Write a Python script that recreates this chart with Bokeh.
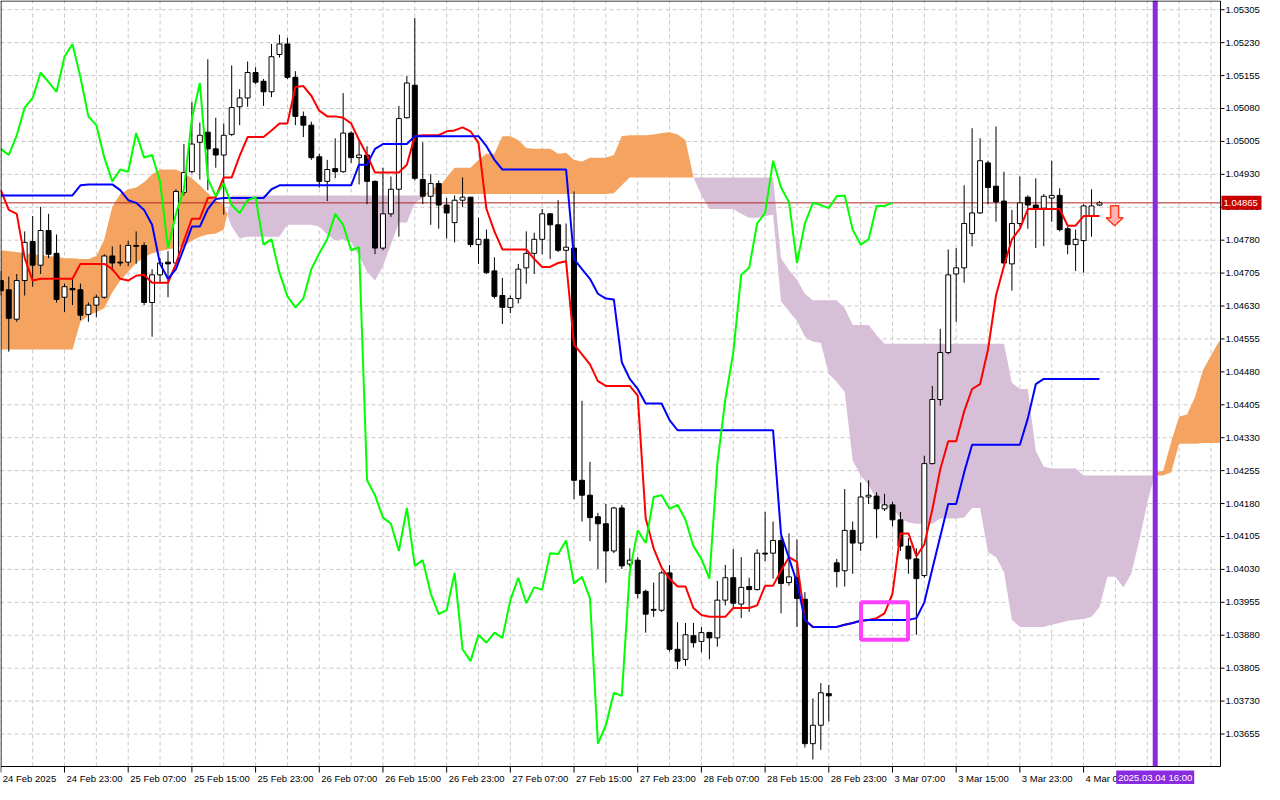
import numpy as np
from bokeh.plotting import figure
from bokeh.models import ColumnDataSource
from bokeh.core.properties import value
from bokeh.embed import file_html
from bokeh.resources import INLINE

# ---------------- data (prices in points: 1 point = 0.00001) ----------------
POINT = 1e-5

open_pts = [
    104688, 104667, 104600, 104688, 104777, 104723, 104802, 104750, 104650, 104670,
    104667, 104611, 104632, 104650, 104744, 104730, 104730, 104768, 104768, 104638,
    104701, 104730, 104728, 104889, 104936, 105003, 105026, 104988, 104974, 105021,
    105084, 105104, 105162, 105142, 105118, 105203, 105227, 105151, 105062, 105042,
    104970, 104914, 104943, 104936, 105024, 104968, 104974, 104914, 104762, 104840,
    104896, 105059, 105133, 104918, 104880, 104909, 104860, 104820, 104871, 104878,
    104770, 104782, 104710, 104654, 104627, 104647, 104717, 104750, 104782, 104840,
    104815, 104757, 104762, 104233, 104199, 104150, 104134, 104072, 104170, 104042,
    104051, 103980, 103939, 103937, 104022, 103848, 103825, 103879, 103866, 103886,
    103874, 103960, 104011, 103951, 103991, 103984, 104067, 104067, 104096, 104000,
    104011, 103962, 103633, 103675, 103747, 104045, 104027, 104119, 104090, 104195,
    104197, 104168, 104177, 104143, 104083, 104054, 104016, 104271, 104417, 104524,
    104703, 104717, 104795, 104842, 104956, 104903, 104869, 104726, 104818, 104878,
    104860, 104853, 104876, 104882, 104806, 104770, 104779, 104835, 104860]
high_pts = [
    104710, 104697, 104703, 104800, 104835, 104856, 104840, 104793, 104681, 104692,
    104681, 104638, 104656, 104748, 104766, 104770, 104779, 104800, 104775, 104714,
    104739, 104755, 104896, 104999, 105095, 105048, 105192, 105059, 105046, 105178,
    105124, 105187, 105174, 105147, 105227, 105248, 105241, 105165, 105073, 105050,
    104977, 104963, 105012, 105115, 105028, 105006, 104994, 104916, 104945, 104925,
    105086, 105154, 105286, 105003, 104930, 104916, 104876, 104882, 104923, 104878,
    104831, 104804, 104741, 104694, 104654, 104726, 104800, 104797, 104851, 104842,
    104871, 104818, 104891, 104414, 104275, 104159, 104179, 104172, 104177, 104078,
    104058, 103984, 104000, 104027, 104040, 103910, 103908, 103908, 103899, 103888,
    104004, 104040, 104076, 104058, 104011, 104076, 104161, 104139, 104105, 104112,
    104098, 103978, 103736, 103771, 103767, 104054, 104213, 104139, 104228, 104233,
    104206, 104202, 104184, 104161, 104101, 104078, 104289, 104448, 104578, 104759,
    104762, 104905, 105035, 105012, 104961, 105039, 104936, 104849, 104925, 104882,
    104921, 104885, 104961, 104898, 104811, 104804, 104862, 104896, 104869]
low_pts = [
    104654, 104526, 104594, 104654, 104674, 104703, 104739, 104638, 104616, 104632,
    104598, 104594, 104605, 104647, 104710, 104721, 104721, 104726, 104632, 104560,
    104681, 104650, 104726, 104882, 104932, 104918, 104894, 104945, 104838, 105017,
    105042, 105084, 105136, 105086, 105106, 105196, 105147, 105042, 105015, 104963,
    104900, 104869, 104921, 104934, 104956, 104907, 104862, 104748, 104757, 104833,
    104788, 105057, 104916, 104862, 104815, 104806, 104784, 104775, 104856, 104764,
    104726, 104703, 104647, 104589, 104614, 104636, 104681, 104703, 104748, 104737,
    104753, 104732, 104190, 104139, 104094, 104031, 104000, 104067, 104031, 104036,
    103964, 103886, 103922, 103933, 103843, 103803, 103810, 103852, 103841, 103825,
    103854, 103948, 103942, 103919, 103933, 103982, 104049, 104009, 103930, 103993,
    103899, 103624, 103597, 103619, 103684, 103989, 103991, 104020, 104072, 104179,
    104101, 104163, 104128, 104072, 104020, 103881, 104011, 104269, 104403, 104520,
    104594, 104683, 104766, 104840, 104862, 104822, 104726, 104665, 104811, 104806,
    104762, 104766, 104822, 104800, 104748, 104710, 104706, 104788, 104858]
close_pts = [
    104665, 104602, 104688, 104775, 104723, 104802, 104748, 104645, 104674, 104667,
    104609, 104632, 104650, 104744, 104728, 104728, 104768, 104766, 104638, 104701,
    104728, 104726, 104891, 104934, 104999, 105019, 104988, 104974, 105019, 105082,
    105104, 105162, 105140, 105118, 105198, 105227, 105151, 105062, 105042, 104968,
    104914, 104941, 104936, 105024, 104968, 104974, 104914, 104762, 104840, 104896,
    105057, 105138, 104921, 104880, 104909, 104860, 104842, 104871, 104878, 104770,
    104782, 104706, 104652, 104627, 104647, 104714, 104750, 104782, 104840, 104815,
    104757, 104764, 104233, 104199, 104148, 104134, 104072, 104170, 104038, 104051,
    103975, 103928, 103937, 104022, 103848, 103821, 103881, 103863, 103886, 103874,
    103960, 104011, 103953, 103989, 103984, 104067, 104065, 104096, 103998, 104013,
    103964, 103633, 103675, 103749, 103742, 104025, 104119, 104090, 104195, 104199,
    104168, 104177, 104143, 104083, 104054, 104009, 104271, 104417, 104524, 104701,
    104717, 104818, 104842, 104961, 104900, 104867, 104728, 104818, 104865, 104860,
    104853, 104880, 104882, 104804, 104770, 104782, 104858, 104858, 104865]

tenkan_pts = [
    104894, 104849, 104840, 104739, 104688, 104692, 104692, 104692, 104692, 104692,
    104726, 104726, 104726, 104726, 104714, 104692, 104688, 104699, 104701, 104683,
    104683, 104683, 104726, 104779, 104829, 104829, 104876, 104878, 104923, 104923,
    104972, 105015, 105015, 105015, 105030, 105046, 105046, 105129, 105131, 105109,
    105075, 105062, 105062, 105059, 105046, 105008, 104974, 104934, 104934, 104934,
    104934, 104952, 105017, 105019, 105019, 105019, 105028, 105030, 105037, 105028,
    105001, 104851, 104800, 104759, 104759, 104759, 104759, 104737, 104719, 104719,
    104728, 104732, 104542, 104520, 104497, 104459, 104448, 104448, 104448, 104448,
    104426, 104146, 104078, 104034, 104009, 103991, 103991, 103942, 103926, 103922,
    103922, 103922, 103942, 103942, 103942, 103948, 103993, 103993, 104027, 104058,
    104047, 103915, 103899, 103899, 103899, 103899, 103904, 103908, 103913, 103915,
    103919, 103930, 103975, 104112, 104112, 104060, 104087, 104166, 104258, 104322,
    104322, 104390, 104441, 104452, 104531, 104654, 104721, 104782, 104806, 104851,
    104851, 104851, 104851, 104851, 104813, 104813, 104835, 104835, 104835]
kijun_pts = [
    104882, 104882, 104882, 104882, 104882, 104882, 104882, 104882, 104882, 104882,
    104905, 104907, 104907, 104907, 104907, 104894, 104871, 104865, 104849, 104815,
    104726, 104692, 104714, 104762, 104811, 104811, 104851, 104874, 104876, 104876,
    104876, 104876, 104876, 104876, 104896, 104905, 104905, 104905, 104905, 104905,
    104905, 104905, 104905, 104905, 104905, 104952, 104952, 104988, 104999, 104999,
    104999, 104999, 105017, 105017, 105017, 105017, 105017, 105017, 105017, 105017,
    105017, 104994, 104963, 104941, 104941, 104941, 104941, 104941, 104941, 104941,
    104941, 104941, 104737, 104714, 104692, 104658, 104647, 104645, 104502, 104464,
    104441, 104408, 104408, 104408, 104370, 104347, 104347, 104347, 104347, 104347,
    104347, 104347, 104347, 104347, 104347, 104347, 104347, 104347, 104110, 104056,
    104000, 103915, 103899, 103899, 103899, 103899, 103904, 103908, 103913, 103915,
    103915, 103915, 103915, 103915, 103915, 103919, 103955, 104031, 104105, 104179,
    104179, 104251, 104314, 104314, 104314, 104314, 104314, 104314, 104314, 104374,
    104452, 104464, 104464, 104464, 104464, 104464, 104464, 104464, 104464]
# Senkou spans as drawn (already displaced 26 bars ahead), bars 0..154
span_a_pts = [
    104757, 104755, 104753, 104750, 104748, 104746, 104744, 104742, 104739, 104739,
    104737, 104737, 104744, 104782, 104856, 104885, 104896, 104900, 104912, 104930,
    104941, 104941, 104941, 104932, 104921, 104905, 104887, 104871, 104860, 104811,
    104784, 104788, 104788, 104788, 104788, 104788, 104815, 104815, 104815, 104815,
    104811, 104793, 104779, 104782, 104775, 104744, 104708, 104688, 104721, 104770,
    104820, 104820, 104865, 104876, 104900, 104900, 104923, 104945, 104945, 104945,
    104963, 104977, 104977, 105017, 105017, 105008, 104990, 104988, 104988, 104988,
    104977, 104979, 104963, 104959, 104968, 104968, 104968, 104974, 105017, 105019,
    105019, 105019, 105021, 105024, 105026, 105021, 105008, 104923, 104882, 104851,
    104851, 104851, 104851, 104840, 104831, 104831, 104835, 104838, 104641, 104618,
    104596, 104560, 104549, 104546, 104475, 104457, 104434, 104278, 104244, 104222,
    104190, 104170, 104170, 104146, 104137, 104134, 104134, 104134, 104146, 104146,
    104146, 104148, 104170, 104170, 104069, 104058, 104025, 103915, 103899, 103899,
    103899, 103899, 103904, 103908, 103913, 103915, 103917, 103922, 103944, 104013,
    104013, 103989, 104020, 104096, 104181, 104251, 104255, 104320, 104378, 104383,
    104423, 104484, 104517, 104549, 104560]
span_b_pts = [
    104531, 104531, 104531, 104531, 104531, 104531, 104531, 104531, 104531, 104531,
    104594, 104609, 104616, 104625, 104661, 104688, 104708, 104728, 104741, 104750,
    104755, 104759, 104762, 104766, 104779, 104788, 104793, 104795, 104804, 104882,
    104882, 104882, 104882, 104882, 104882, 104882, 104882, 104882, 104882, 104882,
    104882, 104882, 104882, 104882, 104882, 104882, 104882, 104882, 104882, 104882,
    104882, 104882, 104882, 104882, 104885, 104885, 104885, 104885, 104885, 104885,
    104885, 104885, 104885, 104885, 104885, 104885, 104885, 104885, 104885, 104885,
    104885, 104885, 104885, 104885, 104885, 104885, 104885, 104887, 104905, 104923,
    104923, 104923, 104923, 104923, 104923, 104923, 104923, 104923, 104923, 104923,
    104923, 104923, 104923, 104923, 104923, 104923, 104923, 104923, 104739, 104712,
    104690, 104658, 104643, 104643, 104643, 104643, 104625, 104587, 104587, 104587,
    104564, 104544, 104544, 104544, 104544, 104544, 104544, 104544, 104544, 104544,
    104544, 104544, 104544, 104544, 104544, 104544, 104544, 104455, 104441, 104441,
    104300, 104264, 104260, 104260, 104260, 104260, 104244, 104244, 104244, 104244,
    104244, 104244, 104244, 104244, 104244, 104244, 104244, 104251, 104316, 104316,
    104316, 104318, 104318, 104318, 104318]
CHIKOU_SHIFT = 26

x_tick_bars = [0, 8, 16, 24, 32, 40, 48, 56, 64, 72, 80, 88, 96, 104, 112, 120, 128, 136]
x_tick_labels = ["24 Feb 2025", "24 Feb 23:00", "25 Feb 07:00", "25 Feb 15:00", "25 Feb 23:00",
                 "26 Feb 07:00", "26 Feb 15:00", "26 Feb 23:00", "27 Feb 07:00", "27 Feb 15:00",
                 "27 Feb 23:00", "28 Feb 07:00", "28 Feb 15:00", "28 Feb 23:00", "3 Mar 07:00",
                 "3 Mar 15:00", "3 Mar 23:00", "4 Mar 07:00"]
y_ticks = [1.03655, 1.03730, 1.03805, 1.03880, 1.03955, 1.04030, 1.04105, 1.04180, 1.04255,
           1.04330, 1.04405, 1.04480, 1.04555, 1.04630, 1.04705, 1.04780, 1.04855, 1.04930,
           1.05005, 1.05080, 1.05155, 1.05230, 1.05305]
y_tick_labels = ["1.03655", "1.03730", "1.03805", "1.03880", "1.03955", "1.04030", "1.04105",
                 "1.04180", "1.04255", "1.04330", "1.04405", "1.04480", "1.04555", "1.04630",
                 "1.04705", "1.04780", "1.04855", "1.04930", "1.05005", "1.05080", "1.05155",
                 "1.05230", "1.05305"]
last_price = 1.04865
last_price_text = "1.04865"
cursor_bar = 145
cursor_text = "2025.03.04 16:00"
box_bars = (108.05, 113.95)
box_prices = (1.03870, 1.03955)
arrow_bar = 139.9
arrow_tip_price = 1.04813

# ---------------- layout ----------------
X0, X1 = -0.04, 153.2          # visible bars of the price pane
Y0, Y1 = 1.03581, 1.05326      # visible prices of the price pane
W, H = 1264, 784               # whole figure
CW, CH = 1220, 766             # price pane inside it (axes are drawn by hand)
FONT = "Liberation Sans"
FS = "9.5px"

bpp = (X1 - X0) / CW
ppp = (Y1 - Y0) / CH
p = figure(width=W, height=H, x_range=(X0, X0 + W * bpp), y_range=(Y1 - H * ppp, Y1),
           output_backend="svg", toolbar_location=None, x_axis_type=None, y_axis_type=None,
           min_border=0, min_border_left=0, min_border_right=0, min_border_top=0,
           min_border_bottom=0, background_fill_color="white", border_fill_color="white")
p.outline_line_color = None

# grid
vgrid = list(range(0, 154, 4))
p.segment(x0=vgrid, y0=Y0, x1=vgrid, y1=Y1, line_color="#c8c8c8", line_dash="4 3", line_width=1)
p.segment(x0=X0, y0=y_ticks, x1=X1, y1=y_ticks, line_color="#c8c8c8", line_dash="4 3", line_width=1)

# ---------------- cloud ----------------
span_a = np.array(span_a_pts) * POINT
span_b = np.array(span_b_pts) * POINT
cb = np.arange(len(span_a))
xs = np.linspace(0, X1, int(X1 * 20) + 1)
ai = np.interp(xs, cb, span_a)
bi = np.interp(xs, cb, span_b)
p.varea(x=xs, y1=ai, y2=np.where(ai > bi, bi, ai), fill_color="#F4A460")
p.varea(x=xs, y1=bi, y2=np.where(bi > ai, ai, bi), fill_color="#D8BFD8")

# current price line
p.segment(x0=[X0], y0=[last_price], x1=[X1], y1=[last_price], line_color="#b22222", line_width=1)

# ---------------- candles ----------------
o = np.array(open_pts) * POINT
h = np.array(high_pts) * POINT
l = np.array(low_pts) * POINT
c = np.array(close_pts) * POINT
bars = np.arange(len(c))
src = ColumnDataSource(dict(
    x=bars, o=o, h=h, l=l, c=c,
    top=np.maximum(o, c), bottom=np.minimum(o, c),
    fill=["white" if cc > oo else "black" for oo, cc in zip(o, c)]))
p.segment(x0="x", y0="l", x1="x", y1="h", source=src, line_color="black", line_width=1)
p.vbar(x="x", width=0.62, top="top", bottom="bottom", source=src,
       fill_color="fill", line_color="black", line_width=1)

# ---------------- Ichimoku lines ----------------
tenkan = np.array(tenkan_pts) * POINT
kijun = np.array(kijun_pts) * POINT
p.line(bars, tenkan, line_color="#FF0000", line_width=2)
p.line(bars, kijun, line_color="#0000FF", line_width=2)
p.line(bars[CHIKOU_SHIFT:] - CHIKOU_SHIFT, c[CHIKOU_SHIFT:], line_color="#00FF00", line_width=2)

# ---------------- marks on the pane ----------------
p.quad(left=[box_bars[0]], right=[box_bars[1]], bottom=[box_prices[0]], top=[box_prices[1]],
       fill_color=None, line_color="#FF40FF", line_width=4)

shape_px = [(0, 0), (8.5, 8), (4, 8), (4, 20), (-4, 20), (-4, 8), (-8.5, 8)]
p.patch([arrow_bar + dx * bpp for dx, dy in shape_px],
        [arrow_tip_price + dy * ppp for dx, dy in shape_px],
        fill_color="#FFB3B3", line_color="#FF3A1A", line_width=1.5)

p.segment(x0=[cursor_bar], y0=[Y0], x1=[cursor_bar], y1=[Y1], line_color="#8A2BE2", line_width=5)

# pane frame
p.quad(left=[X0 + 0.5 * bpp], right=[X1], bottom=[Y0], top=[Y1 - 0.5 * ppp],
       fill_color=None, line_color="black", line_width=1)

# ---------------- right price axis ----------------
p.segment(x0=X1, y0=y_ticks, x1=X1 + 4 * bpp, y1=y_ticks, line_color="black", line_width=1)
p.text(x=X1 + 5 * bpp, y=y_ticks, text=y_tick_labels, text_font=value(FONT), text_font_size=FS,
       text_align="left", text_baseline="middle", text_color="black")

# ---------------- bottom time axis ----------------
p.segment(x0=x_tick_bars, y0=Y0, x1=x_tick_bars, y1=Y0 - 6 * ppp, line_color="black", line_width=1)
p.text(x=[b + 2 * bpp for b in x_tick_bars], y=Y0 - 6 * ppp, text=x_tick_labels,
       text_font=value(FONT), text_font_size=FS, text_align="left", text_baseline="top",
       text_color="black")

# cursor time box
p.rect(x=[cursor_bar], y=[Y0 - 11 * ppp], width=78, height=14, width_units="screen",
       height_units="screen", fill_color="#8A2BE2", line_color=None)
p.text(x=[cursor_bar], y=[Y0 - 11 * ppp], text=[cursor_text], text_font=value(FONT),
       text_font_size=FS, text_align="center", text_baseline="middle", text_color="white")

# last price box
p.rect(x=[X1 + 21 * bpp], y=[last_price], width=40, height=14, width_units="screen",
       height_units="screen", fill_color="#C80000", line_color=None)
p.text(x=[X1 + 3 * bpp], y=[last_price], text=[last_price_text], text_font=value(FONT),
       text_font_size=FS, text_align="left", text_baseline="middle", text_color="white")

open("out.html", "w").write(file_html(p, INLINE))
